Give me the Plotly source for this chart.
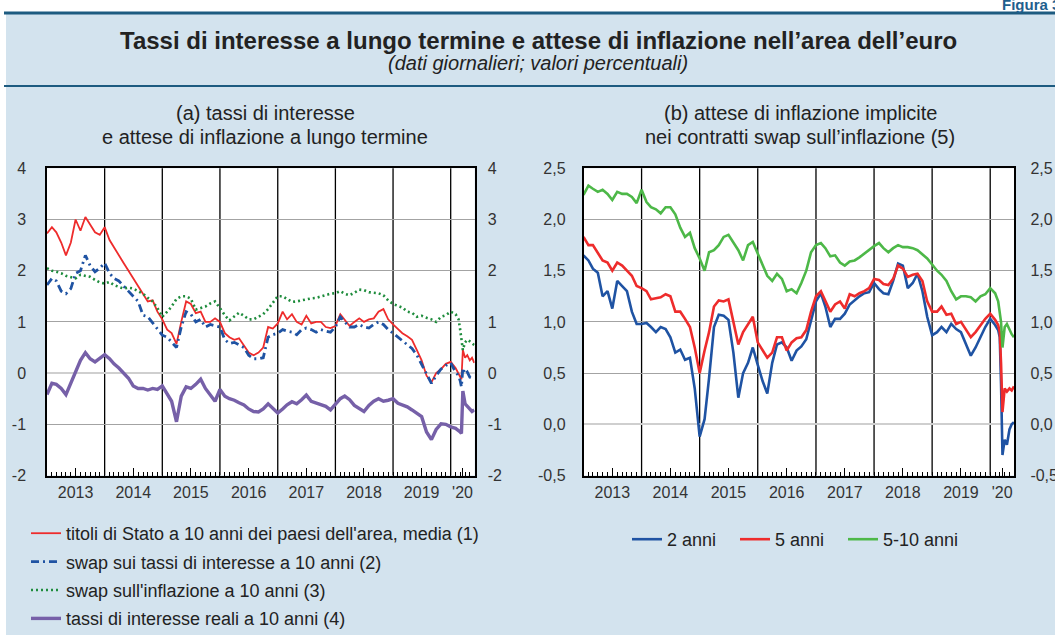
import pandas as pd
import plotly.graph_objects as go

W, H = 1055, 635
FONT = "Liberation Sans, Arial, sans-serif"

# monthly observations 2013 - Jan 2020, denser in 2020
dates = list(pd.date_range("2013-01-01", "2020-01-01", freq="MS").strftime("%Y-%m-%d")) + [
    "2020-02-01", "2020-02-20", "2020-03-01", "2020-03-09", "2020-03-18",
    "2020-04-01", "2020-04-15", "2020-05-01", "2020-05-15", "2020-05-29"]

# (a) long-term rates
gov_bonds_10y = [
    2.73, 2.85, 2.75, 2.55, 2.3, 2.55, 3.0, 2.78, 3.05, 2.9, 2.75, 2.7,
    2.85, 2.6, 2.45, 2.3, 2.15, 2.0, 1.85, 1.7, 1.55, 1.4, 1.42, 1.2,
    1.05, 0.85, 0.78, 0.57, 1.0, 1.4, 1.35, 1.17, 1.2, 1.0, 1.0, 1.07,
    1.0, 0.78, 0.7, 0.65, 0.68, 0.55, 0.4, 0.35, 0.4, 0.5, 0.9, 0.87,
    0.97, 1.2, 1.05, 1.15, 1.0, 0.95, 1.12, 0.97, 1.0, 1.0, 0.9, 0.88,
    0.92, 1.15, 1.05, 0.92, 1.0, 1.07, 1.0, 1.05, 1.07, 1.2, 1.25, 1.05,
    0.95, 0.85, 0.78, 0.72, 0.65, 0.45, 0.25, -0.05, -0.18, 0.0, 0.08, 0.18, 0.22,
    0.1, 0.0, -0.05, -0.12, 0.45, 0.3, 0.35, 0.25, 0.3, 0.2]
irs_10y = [
    1.72, 1.85, 1.8, 1.6, 1.55, 1.65, 1.95, 2.0, 2.3, 2.1, 1.98, 2.05,
    2.15, 1.95, 1.85, 1.8, 1.7, 1.6, 1.5, 1.4, 1.13, 1.1, 0.98, 0.86,
    0.74, 0.7, 0.6, 0.5, 0.9, 1.2, 1.15, 1.0, 1.05, 0.9, 0.95, 0.92,
    0.9, 0.65, 0.58, 0.6, 0.55, 0.5, 0.35, 0.28, 0.28, 0.3, 0.7, 0.75,
    0.78, 0.85, 0.82, 0.8, 0.75, 0.85, 0.88, 0.85, 0.8, 0.85, 0.82, 0.8,
    0.9, 1.1, 1.0, 0.9, 0.9, 0.95, 0.9, 0.88, 0.95, 1.0, 0.95, 0.85,
    0.78, 0.7, 0.62, 0.55, 0.48, 0.35, 0.18, 0.0, -0.2, -0.05, 0.08, 0.15, 0.2,
    0.02, -0.05, -0.15, -0.27, 0.1, -0.02, 0.02, -0.08, -0.1, -0.12]
infl_swap_10y = [
    2.05, 2.0, 1.98, 1.95, 1.9, 1.88, 1.85, 1.92, 1.9, 1.88, 1.82, 1.77,
    1.75, 1.78, 1.72, 1.68, 1.65, 1.67, 1.65, 1.6, 1.55, 1.47, 1.4, 1.27,
    1.1, 1.2, 1.3, 1.45, 1.5, 1.5, 1.45, 1.24, 1.27, 1.3, 1.36, 1.4,
    1.27, 1.13, 1.03, 1.1, 1.18, 1.12, 1.05, 1.05, 1.1, 1.15, 1.25, 1.38,
    1.5, 1.5, 1.45, 1.39, 1.4, 1.42, 1.45, 1.46, 1.47, 1.5, 1.52, 1.55,
    1.56, 1.6, 1.55, 1.52, 1.57, 1.63, 1.62, 1.58, 1.57, 1.56, 1.52, 1.42,
    1.35, 1.32, 1.28, 1.2, 1.18, 1.1, 1.12, 1.08, 1.05, 1.0, 1.1, 1.13, 1.2,
    1.15, 1.05, 0.85, 0.7, 0.45, 0.6, 0.65, 0.62, 0.58, 0.55]
real_rates_10y = [
    -0.42, -0.2, -0.22, -0.3, -0.42, -0.2, 0.05, 0.25, 0.4, 0.28, 0.22, 0.28,
    0.36, 0.28, 0.18, 0.1, 0.0, -0.1, -0.25, -0.3, -0.3, -0.33, -0.3, -0.32,
    -0.25, -0.42, -0.55, -0.95, -0.45, -0.27, -0.3, -0.22, -0.12, -0.3, -0.42, -0.55,
    -0.32, -0.45, -0.5, -0.53, -0.58, -0.62, -0.7, -0.75, -0.76, -0.7, -0.6, -0.68,
    -0.78, -0.7, -0.62, -0.56, -0.6, -0.52, -0.43, -0.55, -0.58, -0.62, -0.65, -0.72,
    -0.62, -0.5, -0.45, -0.52, -0.63, -0.7, -0.75, -0.63, -0.55, -0.5, -0.55, -0.53,
    -0.5, -0.59, -0.62, -0.66, -0.72, -0.78, -0.85, -1.15, -1.3, -1.1, -0.99, -1.0, -1.05,
    -1.08, -1.12, -1.15, -1.18, -0.35, -0.6, -0.65, -0.72, -0.75, -0.72]

# (b) inflation swaps
swap_2y = [
    1.65, 1.6, 1.52, 1.48, 1.25, 1.3, 1.13, 1.4, 1.35, 1.3, 1.1, 0.98,
    0.98, 0.99, 0.95, 0.9, 0.95, 0.93, 0.85, 0.7, 0.73, 0.63, 0.65, 0.35,
    -0.12, 0.05, 0.45, 0.95, 1.07, 1.06, 1.02, 0.7, 0.26, 0.5, 0.6, 0.75,
    0.58, 0.42, 0.3, 0.6, 0.78, 0.8, 0.75, 0.62, 0.72, 0.76, 0.83, 1.02,
    1.2, 1.28, 1.15, 0.95, 1.03, 1.03, 1.08, 1.17, 1.21, 1.25, 1.28, 1.29,
    1.38, 1.32, 1.28, 1.27, 1.4, 1.57, 1.55, 1.33, 1.38, 1.47, 1.3, 1.05,
    0.87, 0.9, 0.95, 0.9, 0.98, 0.93, 0.9, 0.78, 0.67, 0.75, 0.85, 0.95, 1.03,
    0.97, 0.92, 0.85, 0.4, -0.3, -0.15, -0.2, -0.05, 0.0, 0.02]
swap_5y = [
    1.83, 1.75, 1.75, 1.68, 1.6, 1.58, 1.5, 1.58, 1.55, 1.5, 1.45, 1.35,
    1.33, 1.3, 1.22, 1.23, 1.24, 1.27, 1.25, 1.1, 1.1, 1.03, 0.95, 0.75,
    0.5, 0.72, 0.9, 1.15, 1.21, 1.2, 1.22, 1.0, 0.78, 0.9, 0.98, 1.05,
    0.8, 0.72, 0.65, 0.7, 0.85, 0.85, 0.72, 0.8, 0.84, 0.85, 0.92, 1.1,
    1.25, 1.3, 1.2, 1.1, 1.17, 1.2, 1.13, 1.27, 1.25, 1.28, 1.3, 1.33,
    1.42, 1.41, 1.37, 1.36, 1.42, 1.55, 1.52, 1.44, 1.46, 1.47, 1.4, 1.2,
    1.1, 1.1, 1.15, 1.07, 1.08, 0.98, 1.0, 0.92, 0.85, 0.9, 0.97, 1.03, 1.08,
    1.02, 0.97, 0.9, 0.6, 0.12, 0.35, 0.32, 0.35, 0.33, 0.37]
swap_5y5y = [
    2.24, 2.33, 2.3, 2.27, 2.29, 2.25, 2.19, 2.27, 2.25, 2.25, 2.22, 2.16,
    2.29, 2.17, 2.12, 2.1, 2.06, 2.12, 2.12, 2.05, 1.92, 1.83, 1.87, 1.72,
    1.62, 1.5, 1.68, 1.7, 1.75, 1.83, 1.85, 1.77, 1.7, 1.6, 1.75, 1.78,
    1.67, 1.55, 1.45, 1.4, 1.47, 1.42, 1.3, 1.32, 1.28, 1.38, 1.5, 1.68,
    1.75, 1.77, 1.72, 1.64, 1.65, 1.58, 1.55, 1.59, 1.6, 1.63, 1.67, 1.7,
    1.74, 1.77, 1.72, 1.68, 1.72, 1.75, 1.73, 1.73, 1.72, 1.7, 1.66, 1.62,
    1.56, 1.5, 1.46, 1.4, 1.3, 1.22, 1.25, 1.25, 1.24, 1.2, 1.25, 1.27, 1.33,
    1.28, 1.2, 1.1, 1.0, 0.75, 0.95, 0.98, 0.92, 0.88, 0.85]

year_starts = ["2014-01-01", "2015-01-01", "2016-01-01", "2017-01-01",
               "2018-01-01", "2019-01-01", "2020-01-01"]
year_label_pos = ["2013-07-01", "2014-07-01", "2015-07-01", "2016-07-01",
                  "2017-07-01", "2018-07-01", "2019-07-01", "2020-03-16"]
year_labels = ["2013", "2014", "2015", "2016", "2017", "2018", "2019", "'20"]
X_RANGE = ["2013-01-01", "2020-06-01"]

yticks_a = [-2, -1, 0, 1, 2, 3, 4]
ylabels_a = ["-2", "-1", "0", "1", "2", "3", "4"]
yticks_b = [-0.5, 0.0, 0.5, 1.0, 1.5, 2.0, 2.5]
ylabels_b = ["-0,5", "0,0", "0,5", "1,0", "1,5", "2,0", "2,5"]

BG = "#D3E3EE"
DARK = "#1D5B80"


def px(x):
    return x / W


def py(y):
    return 1 - y / H


def data_xaxis(domain, anchor):
    return dict(
        domain=domain, anchor=anchor, type="date", range=X_RANGE,
        tickmode="array", tickvals=year_label_pos, ticktext=year_labels,
        ticks="inside", ticklen=8, tickcolor="black", tickwidth=1,
        minor=dict(dtick="M1", tick0="2013-01-01", ticks="inside", ticklen=4,
                   tickcolor="black", tickwidth=1, showgrid=False),
        showgrid=False, zeroline=False, showline=True, linecolor="black",
        linewidth=1.5, mirror=True, ticklabelstandoff=2,
        tickfont=dict(size=16, color="#333"),
    )


def data_yaxis(domain, anchor, rng, vals, labels, standoff):
    return dict(
        domain=domain, anchor=anchor, range=rng, tickmode="array",
        tickvals=vals, ticktext=labels, ticks="", showgrid=True,
        gridcolor="#A3A3A3", gridwidth=1,
        zeroline=True, zerolinecolor="#CFCFCF", zerolinewidth=2,
        showline=True, linecolor="black", linewidth=1.5, mirror=True,
        ticklabelstandoff=standoff, tickfont=dict(size=16, color="#333"),
    )


def right_labels(overlay, anchor, rng, vals, labels, standoff):
    return dict(
        overlaying=overlay, anchor=anchor, side="right", range=rng,
        tickmode="array", tickvals=vals, ticktext=labels, ticks="",
        showgrid=False, zeroline=False, showline=False,
        ticklabelstandoff=standoff, tickfont=dict(size=16, color="#333"),
    )


def note(text, x, y, size, **kw):
    return dict(text=text, x=px(x), y=py(y), xref="paper", yref="paper",
                xanchor=kw.pop("xanchor", "center"), yanchor="middle",
                showarrow=False, font=dict(size=size, color=kw.pop("color", "#222")))


fig = go.Figure()

left_series = [
    ("titoli di Stato a 10 anni dei paesi dell'area, media (1)", gov_bonds_10y,
     dict(color="#EE2C2C", width=1.8)),
    ("swap sui tassi di interesse a 10 anni (2)", irs_10y,
     dict(color="#1F53A3", width=2.8, dash="8px,4px,2px,4px")),
    ("swap sull'inflazione a 10 anni (3)", infl_swap_10y,
     dict(color="#1E8C3C", width=2.6, dash="2px,3px")),
    ("tassi di interesse reali a 10 anni (4)", real_rates_10y,
     dict(color="#7660A8", width=3.4)),
]
for i, (name, vals, line) in enumerate(left_series):
    fig.add_trace(go.Scatter(
        x=dates, y=vals, mode="lines", name=name, line=line,
        xaxis="x", yaxis="y", legend="legend", legendgroup=f"a{i}",
    ))

right_series = [
    ("2 anni", swap_2y, "#1F53A3", "legend2"),
    ("5 anni", swap_5y, "#EE2C2C", "legend2"),
    ("5-10 anni", swap_5y5y, "#4DB848", "legend3"),
]
for name, vals, color, leg in right_series:
    fig.add_trace(go.Scatter(
        x=dates, y=vals, mode="lines", name=name, line=dict(color=color, width=2.6),
        xaxis="x2", yaxis="y2", legend=leg,
    ))

# empty traces so the right-hand label axes get drawn
for xa, ya in [("x", "y3"), ("x2", "y4")]:
    fig.add_trace(go.Scatter(x=[], y=[], xaxis=xa, yaxis=ya, showlegend=False,
                             hoverinfo="skip"))

# black separators at the start of each year
year_lines = [
    dict(type="line", xref=xa, yref=f"{ya} domain", x0=d, x1=d, y0=0, y1=1,
         line=dict(color="black", width=1.3), layer="below")
    for xa, ya in [("x", "y"), ("x2", "y2")] for d in year_starts
]

dom_y = [py(475.5), py(168.3)]
leg_font = dict(size=18, color="#222")
fig.update_layout(
    width=W, height=H, autosize=False,
    margin=dict(l=0, r=0, t=0, b=0, autoexpand=False),
    paper_bgcolor=BG, plot_bgcolor="white",
    font=dict(family=FONT, color="#222"),
    xaxis=data_xaxis([px(47), px(474.7)], "y"),
    xaxis2=data_xaxis([px(583.5), px(1014.4)], "y2"),
    yaxis=data_yaxis(dom_y, "x", [-2, 4], yticks_a, ylabels_a, 16),
    yaxis2=data_yaxis(dom_y, "x2", [-0.5, 2.5], yticks_b, ylabels_b, 13),
    yaxis3=right_labels("y", "x", [-2, 4], yticks_a, ylabels_a, 12),
    yaxis4=right_labels("y2", "x2", [-0.5, 2.5], yticks_b, ylabels_b, 15),
    showlegend=True,
    legend=dict(x=px(26), y=py(515), xanchor="left", yanchor="top",
                bgcolor="rgba(0,0,0,0)", font=leg_font,
                tracegroupgap=2, traceorder="grouped"),
    legend2=dict(orientation="h", x=px(627), y=py(521), xanchor="left", yanchor="top",
                 bgcolor="rgba(0,0,0,0)", font=leg_font, entrywidth=63),
    legend3=dict(orientation="h", x=px(843), y=py(521), xanchor="left", yanchor="top",
                 bgcolor="rgba(0,0,0,0)", font=leg_font),
    shapes=[
        dict(type="rect", xref="paper", yref="paper", x0=0, x1=1, y0=py(13), y1=1,
             fillcolor="white", line_width=0, layer="below"),
        dict(type="rect", xref="paper", yref="paper", x0=0, x1=px(6), y0=0, y1=1,
             fillcolor="white", line_width=0, layer="below"),
        dict(type="line", xref="paper", yref="paper", x0=px(4), x1=1, y0=py(13), y1=py(13),
             line=dict(color=DARK, width=3)),
        dict(type="line", xref="paper", yref="paper", x0=px(4), x1=1, y0=py(86), y1=py(86),
             line=dict(color=DARK, width=2)),
    ] + year_lines,
    annotations=[
        note("<b>Figura 3.1</b>", 1000, 5, 15, xanchor="left", color="#1F5F8E"),
        note("<b>Tassi di interesse a lungo termine e attese di inflazione nell’area dell’euro</b>",
             538, 40, 24),
        note("<i>(dati giornalieri; valori percentuali)</i>", 538, 63, 20),
        note("(a) tassi di interesse", 265, 113, 20),
        note("e attese di inflazione a lungo termine", 265, 137, 20),
        note("(b) attese di inflazione implicite", 800, 113, 20),
        note("nei contratti swap sull’inflazione (5)", 800, 137, 20),
    ],
)

fig.write_html(
    "out.html",
    config={"responsive": False, "displayModeBar": False},
    post_script="document.body.style.margin = '0'; document.body.style.overflow = 'hidden';",
)
